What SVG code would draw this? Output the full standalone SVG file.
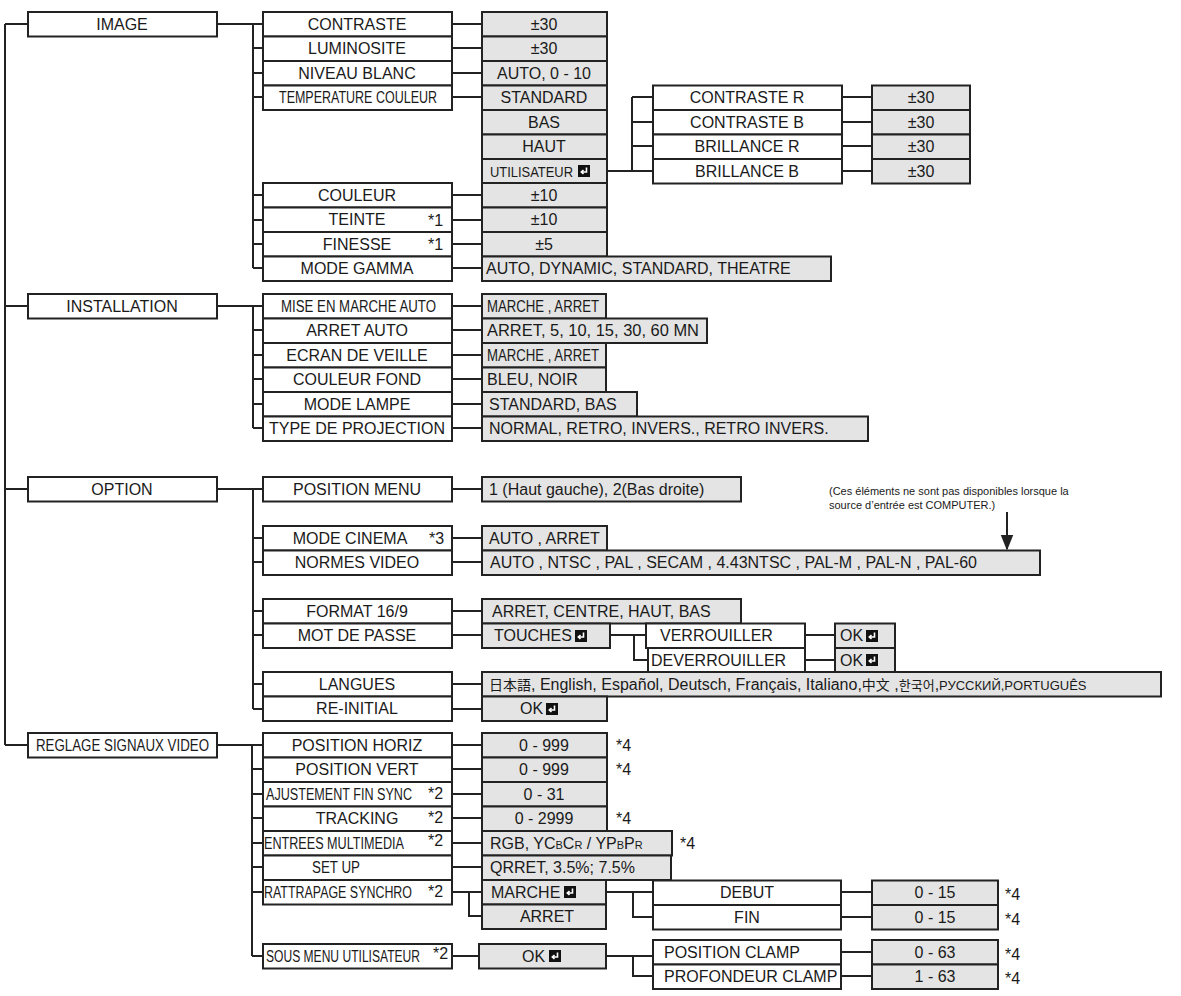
<svg xmlns="http://www.w3.org/2000/svg" xmlns:xlink="http://www.w3.org/1999/xlink" width="1181" height="996" viewBox="0 0 1181 996">
<style>
rect.b{fill:#fff;stroke:#222;stroke-width:2}
rect.v{fill:#e4e4e4;stroke:#222;stroke-width:2}
text{font-family:"Liberation Sans",Arial,sans-serif;font-size:16px;fill:#1a1a1a}
.c{text-anchor:middle}
.s{font-size:14px}
.n{font-size:11px}
#conn path{fill:none;stroke:#222;stroke-width:2}
</style>
<defs>
<symbol id="ret" viewBox="0 0 12 12"><rect width="12" height="12" fill="#111"/><path d="M8.5 2.5V7H3.5M5.5 5L3.3 7L5.5 9" fill="none" stroke="#fff" stroke-width="1.6"/></symbol>
<marker id="ah" viewBox="0 0 10 10" refX="9" refY="5" markerWidth="8" markerHeight="8" orient="auto"><path d="M0 1L10 5L0 9z" fill="#222"/></marker>
</defs>
<g id="conn">
<path d="M5 24V745M5 24H28M5 306H28M5 489H28M5 745H28"/>
<path d="M217 24H263M253 24V268M253 48H263M253 73H263M253 97H263M253 195H263M253 220H263M253 244H263M253 268H263"/>
<path d="M452 24H482M452 48H482M452 73H482M452 97H482M452 195H482M452 220H482M452 244H482M452 268H482"/>
<path d="M607 171H653M632 97V171M632 97H653M632 122H653M632 146H653"/>
<path d="M842 97H872M842 122H872M842 146H872M842 171H872"/>
<path d="M217 306H263M253 306V428M253 330H263M253 355H263M253 379H263M253 404H263M253 428H263"/>
<path d="M452 306H482M452 330H482M452 355H482M452 379H482M452 404H482M452 428H482"/>
<path d="M217 489H263M253 489V709M253 538H263M253 562H263M253 611H263M253 635H263M253 684H263M253 709H263"/>
<path d="M452 489H482M452 538H482M452 562H482M452 611H482M452 635H482M452 684H482M452 709H482"/>
<path d="M610 635H646M634 635V660H648M805 635H835M805 660H835"/>
<path d="M217 745H263M252 745V956M252 769H263M252 794H263M252 818H263M252 843H263M252 867H263M252 892H263M252 956H263"/>
<path d="M452 745H482M452 769H482M452 794H482M452 818H482M452 843H482M452 867H482M452 892H482M469 892V916H482M452 956H479"/>
<path d="M606 892H653M633 892V917H653M841 892H872M841 917H872"/>
<path d="M606 956H653M633 956V976H653M841 952H872M841 976H872"/>
<path d="M1007 512V549" marker-end="url(#ah)"/>
</g>
<g id="n-image"><rect class="b" x="28" y="12" width="189" height="24.5"/><text class="c" x="122" y="30">IMAGE</text></g>
<g id="n-installation"><rect class="b" x="28" y="294" width="189" height="24.5"/><text class="c" x="122" y="312">INSTALLATION</text></g>
<g id="n-option"><rect class="b" x="28" y="477" width="189" height="24.5"/><text class="c" x="122" y="495">OPTION</text></g>
<g id="n-reglage"><rect class="b" x="28" y="733" width="189" height="24.5"/><text x="36" y="751" textLength="173" lengthAdjust="spacingAndGlyphs">REGLAGE SIGNAUX VIDEO</text></g>

<g id="image-sub">
<rect class="b" x="263" y="12" width="189" height="24.5"/><text class="c" x="357" y="30">CONTRASTE</text>
<rect class="b" x="263" y="36.5" width="189" height="24.5"/><text class="c" x="357" y="54">LUMINOSITE</text>
<rect class="b" x="263" y="61" width="189" height="24.5"/><text class="c" x="357" y="79">NIVEAU BLANC</text>
<rect class="b" x="263" y="85.5" width="189" height="24.5"/><text x="279" y="103" textLength="158" lengthAdjust="spacingAndGlyphs">TEMPERATURE COULEUR</text>
<rect class="b" x="263" y="183" width="189" height="24.5"/><text class="c" x="357" y="201">COULEUR</text>
<rect class="b" x="263" y="207.5" width="189" height="24.5"/><text class="c" x="357" y="225">TEINTE</text><text x="428" y="226">*1</text>
<rect class="b" x="263" y="232" width="189" height="24.5"/><text class="c" x="357" y="250">FINESSE</text><text x="428" y="250">*1</text>
<rect class="b" x="263" y="256.5" width="189" height="24.5"/><text class="c" x="357" y="274">MODE GAMMA</text>
</g>
<g id="image-val">
<rect class="v" x="482" y="12" width="125" height="24.5"/><text class="c" x="544" y="30">±30</text>
<rect class="v" x="482" y="36.5" width="125" height="24.5"/><text class="c" x="544" y="54">±30</text>
<rect class="v" x="482" y="61" width="125" height="24.5"/><text class="c" x="544" y="79">AUTO, 0 - 10</text>
<rect class="v" x="482" y="85.5" width="125" height="24.5"/><text class="c" x="544" y="103">STANDARD</text>
<rect class="v" x="482" y="110" width="125" height="24.5"/><text class="c" x="544" y="128">BAS</text>
<rect class="v" x="482" y="134.5" width="125" height="24.5"/><text class="c" x="544" y="152">HAUT</text>
<rect class="v" x="482" y="159" width="125" height="24.5"/><text x="490" y="177" textLength="83" lengthAdjust="spacingAndGlyphs" class="s">UTILISATEUR</text><use href="#ret" x="578" y="165" width="12" height="12"/>
<rect class="v" x="482" y="183" width="125" height="24.5"/><text class="c" x="544" y="201">±10</text>
<rect class="v" x="482" y="207.5" width="125" height="24.5"/><text class="c" x="544" y="225">±10</text>
<rect class="v" x="482" y="232" width="125" height="24.5"/><text class="c" x="544" y="250">±5</text>
<rect class="v" x="482" y="256.5" width="349" height="24.5"/><text x="486" y="274">AUTO, DYNAMIC, STANDARD, THEATRE</text>
</g>
<g id="user-sub">
<rect class="b" x="653" y="85.5" width="189" height="24.5"/><text class="c" x="747" y="103">CONTRASTE R</text>
<rect class="b" x="653" y="110" width="189" height="24.5"/><text class="c" x="747" y="128">CONTRASTE B</text>
<rect class="b" x="653" y="134.5" width="189" height="24.5"/><text class="c" x="747" y="152">BRILLANCE R</text>
<rect class="b" x="653" y="159" width="189" height="24.5"/><text class="c" x="747" y="177">BRILLANCE B</text>
<rect class="v" x="872" y="85.5" width="98" height="24.5"/><text class="c" x="921" y="103">±30</text>
<rect class="v" x="872" y="110" width="98" height="24.5"/><text class="c" x="921" y="128">±30</text>
<rect class="v" x="872" y="134.5" width="98" height="24.5"/><text class="c" x="921" y="152">±30</text>
<rect class="v" x="872" y="159" width="98" height="24.5"/><text class="c" x="921" y="177">±30</text>
</g>
<g id="install-sub">
<rect class="b" x="263" y="294" width="189" height="24.5"/><text x="281" y="312" textLength="155" lengthAdjust="spacingAndGlyphs">MISE EN MARCHE AUTO</text>
<rect class="b" x="263" y="318.5" width="189" height="24.5"/><text class="c" x="357" y="336">ARRET AUTO</text>
<rect class="b" x="263" y="343" width="189" height="24.5"/><text class="c" x="357" y="361">ECRAN DE VEILLE</text>
<rect class="b" x="263" y="367.5" width="189" height="24.5"/><text class="c" x="357" y="385">COULEUR FOND</text>
<rect class="b" x="263" y="392" width="189" height="24.5"/><text class="c" x="357" y="410">MODE LAMPE</text>
<rect class="b" x="263" y="416.5" width="189" height="24.5"/><text class="c" x="357" y="434">TYPE DE PROJECTION</text>
<rect class="v" x="482" y="294" width="124" height="24.5"/><text x="487" y="312" textLength="112" lengthAdjust="spacingAndGlyphs">MARCHE , ARRET</text>
<rect class="v" x="482" y="318.5" width="225" height="24.5"/><text x="487" y="336" textLength="212" lengthAdjust="spacingAndGlyphs">ARRET,  5,  10,  15,  30,  60 MN</text>
<rect class="v" x="482" y="343" width="124" height="24.5"/><text x="487" y="361" textLength="112" lengthAdjust="spacingAndGlyphs">MARCHE , ARRET</text>
<rect class="v" x="482" y="367.5" width="124" height="24.5"/><text x="487" y="385">BLEU, NOIR</text>
<rect class="v" x="482" y="392" width="155" height="24.5"/><text x="489" y="410">STANDARD, BAS</text>
<rect class="v" x="482" y="416.5" width="386" height="24.5"/><text x="489" y="434">NORMAL, RETRO, INVERS., RETRO INVERS.</text>
</g>
<g id="option-sub">
<rect class="b" x="263" y="477" width="189" height="24.5"/><text class="c" x="357" y="495">POSITION MENU</text>
<rect class="b" x="263" y="526" width="189" height="24.5"/><text class="c" x="350" y="544">MODE CINEMA</text><text x="429" y="544">*3</text>
<rect class="b" x="263" y="550.5" width="189" height="24.5"/><text class="c" x="357" y="568">NORMES VIDEO</text>
<rect class="b" x="263" y="599" width="189" height="24.5"/><text class="c" x="357" y="617">FORMAT 16/9</text>
<rect class="b" x="263" y="623.5" width="189" height="24.5"/><text class="c" x="357" y="641">MOT DE PASSE</text>
<rect class="b" x="263" y="672" width="189" height="24.5"/><text class="c" x="357" y="690">LANGUES</text>
<rect class="b" x="263" y="696.5" width="189" height="24.5"/><text class="c" x="357" y="714">RE-INITIAL</text>
<rect class="v" x="482" y="477" width="259" height="24.5"/><text x="489" y="495">1 (Haut gauche), 2(Bas droite)</text>
<rect class="v" x="482" y="526" width="125" height="24.5"/><text x="489" y="544">AUTO , ARRET</text>
<rect class="v" x="482" y="550.5" width="558" height="24.5"/><text x="490" y="568">AUTO , NTSC , PAL , SECAM , 4.43NTSC , PAL-M , PAL-N , PAL-60</text>
<rect class="v" x="482" y="599" width="259" height="24.5"/><text x="492" y="617">ARRET, CENTRE, HAUT, BAS</text>
<rect class="v" x="482" y="623.5" width="128" height="24.5"/><text x="494" y="641">TOUCHES</text><use href="#ret" x="575" y="630" width="12" height="12"/>
<rect class="b" x="646" y="623.5" width="159" height="24.5"/><text x="660" y="641">VERROUILLER</text>
<rect class="b" x="648" y="648" width="157" height="24.5"/><text x="651" y="666">DEVERROUILLER</text>
<rect class="v" x="835" y="623.5" width="60" height="24.5"/><text x="840" y="641">OK</text><use href="#ret" x="866" y="630" width="12" height="12"/>
<rect class="v" x="835" y="648" width="60" height="24.5"/><text x="840" y="666">OK</text><use href="#ret" x="866" y="654" width="12" height="12"/>
<rect class="v" x="482" y="672" width="679" height="24.5"/><text x="489" y="690"><tspan font-family="Noto Sans CJK JP,sans-serif" font-size="14">日本語</tspan>, English, Español, Deutsch, Français, Italiano,<tspan font-family="Noto Sans CJK SC,sans-serif" font-size="14">中文</tspan> ,<tspan font-family="Noto Sans CJK KR,sans-serif" font-size="13">한국어</tspan>,<tspan font-size="13">РУССКИЙ,PORTUGUÊS</tspan></text>
<rect class="v" x="482" y="696.5" width="125" height="24.5"/><text x="520" y="714">OK</text><use href="#ret" x="546" y="703" width="12" height="12"/>
</g>
<g id="note"><text class="n" x="829" y="495">(Ces éléments ne sont pas disponibles lorsque la</text><text class="n" x="829" y="509">source d’entrée est COMPUTER.)</text></g>
<g id="reglage-sub">
<rect class="b" x="263" y="733" width="189" height="24.5"/><text class="c" x="357" y="751">POSITION HORIZ</text>
<rect class="b" x="263" y="757.5" width="189" height="24.5"/><text class="c" x="357" y="775">POSITION VERT</text>
<rect class="b" x="263" y="782" width="189" height="24.5"/><text x="266" y="800" textLength="146" lengthAdjust="spacingAndGlyphs">AJUSTEMENT FIN SYNC</text><text x="428" y="799">*2</text>
<rect class="b" x="263" y="806.5" width="189" height="24.5"/><text class="c" x="357" y="824">TRACKING</text><text x="428" y="823">*2</text>
<rect class="b" x="263" y="831" width="189" height="24.5"/><text x="264" y="849" textLength="140" lengthAdjust="spacingAndGlyphs">ENTREES MULTIMEDIA</text><text x="428" y="846">*2</text>
<rect class="b" x="263" y="855.5" width="189" height="24.5"/><text x="312" y="873" textLength="48" lengthAdjust="spacingAndGlyphs">SET UP</text>
<rect class="b" x="263" y="880" width="189" height="24.5"/><text x="264" y="898" textLength="148" lengthAdjust="spacingAndGlyphs">RATTRAPAGE SYNCHRO</text><text x="428" y="897">*2</text>
<rect class="b" x="263" y="944" width="189" height="24.5"/><text x="266" y="962" textLength="154" lengthAdjust="spacingAndGlyphs">SOUS MENU UTILISATEUR</text><text x="433" y="959">*2</text>
<rect class="v" x="482" y="733" width="125" height="24.5"/><text class="c" x="544" y="751">0 - 999</text><text x="616" y="751">*4</text>
<rect class="v" x="482" y="757.5" width="125" height="24.5"/><text class="c" x="544" y="775">0 - 999</text><text x="616" y="775">*4</text>
<rect class="v" x="482" y="782" width="125" height="24.5"/><text class="c" x="544" y="800">0 - 31</text>
<rect class="v" x="482" y="806.5" width="125" height="24.5"/><text class="c" x="544" y="824">0 - 2999</text><text x="616" y="824">*4</text>
<rect class="v" x="482" y="831" width="190" height="24.5"/><text x="490" y="849">RGB, YC<tspan font-size="11">B</tspan>C<tspan font-size="11">R</tspan> / YP<tspan font-size="11">B</tspan>P<tspan font-size="11">R</tspan></text><text x="680" y="849">*4</text>
<rect class="v" x="482" y="855.5" width="189" height="24.5"/><text x="490" y="873">QRRET, 3.5%; 7.5%</text>
<rect class="v" x="482" y="880" width="124" height="24.5"/><text x="491" y="898">MARCHE</text><use href="#ret" x="564" y="886" width="12" height="12"/>
<rect class="v" x="482" y="904.5" width="124" height="24.5"/><text class="c" x="547" y="922">ARRET</text>
<rect class="v" x="479" y="944" width="127" height="24.5"/><text x="522" y="962">OK</text><use href="#ret" x="549" y="950" width="12" height="12"/>
</g>
<g id="synchro-sub">
<rect class="b" x="653" y="880.5" width="188" height="24.5"/><text class="c" x="747" y="898">DEBUT</text>
<rect class="b" x="653" y="905" width="188" height="24.5"/><text class="c" x="747" y="923">FIN</text>
<rect class="v" x="872" y="880.5" width="126" height="24.5"/><text class="c" x="935" y="898">0 - 15</text><text x="1005" y="900">*4</text>
<rect class="v" x="872" y="905" width="126" height="24.5"/><text class="c" x="935" y="923">0 - 15</text><text x="1005" y="925">*4</text>
</g>
<g id="clamp-sub">
<rect class="b" x="653" y="940" width="188" height="24.5"/><text x="664" y="958">POSITION CLAMP</text>
<rect class="b" x="653" y="964.5" width="188" height="24.5"/><text x="664" y="982">PROFONDEUR CLAMP</text>
<rect class="v" x="872" y="940" width="126" height="24.5"/><text class="c" x="935" y="958">0 - 63</text><text x="1005" y="960">*4</text>
<rect class="v" x="872" y="964.5" width="126" height="24.5"/><text class="c" x="935" y="982">1 - 63</text><text x="1005" y="984">*4</text>
</g>
</svg>
